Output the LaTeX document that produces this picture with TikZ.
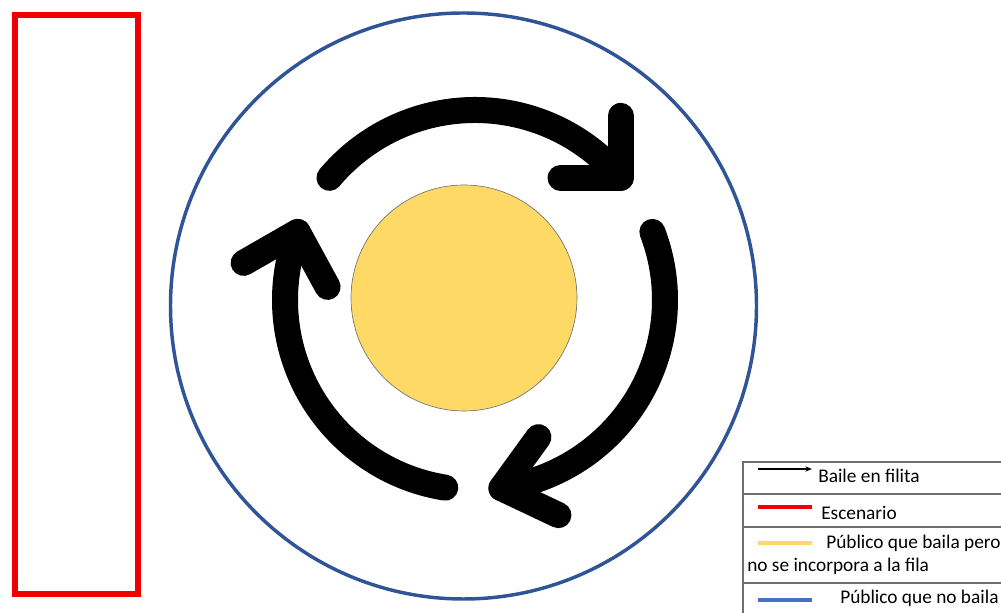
\documentclass[tikz,border=0pt]{standalone}
\usepackage{fontspec}
\setmainfont{Carlito}
\usetikzlibrary{arrows.meta,calc}
\definecolor{stage}{HTML}{F00000}
\definecolor{outerblue}{HTML}{2F5597}
\definecolor{sun}{HTML}{FFD966}
\definecolor{legblue}{HTML}{4472C4}
\definecolor{leggray}{HTML}{6E6E6E}
\begin{document}
\begin{tikzpicture}[x=0.75pt,y=0.75pt,
  ring/.style={line width=19.5pt, line cap=round, line join=round, black},
  legline/.style={draw=leggray, line width=1pt},
  legsym/.style={line width=3.6pt},
  legtext/.style={font=\fontsize{14.5pt}{17pt}\selectfont, inner sep=0pt, anchor=base west}]
\useasboundingbox (0,0) rectangle (1001,613);
\clip (0,0) rectangle (1001,613);
% stage
\draw[stage, line width=4.5pt] (15,19) rectangle (138,598);
% outer circle
\draw[outerblue, line width=2.6pt] (463.5,307) circle[radius=293];
% inner circle
\draw[draw=black!55, line width=0.5pt, fill=sun] (464,315) circle[radius=113];
% circular arrows
\coordinate (rc) at (475,313);
\draw[ring] (rc) ++(140:190) arc[start angle=140, end angle=40, radius=190];
\coordinate (tA) at ($(rc)+(40:190)$);
\draw[ring] ($(tA)+(0,62)$) -- (tA) -- ($(tA)+(-60,0)$);
\draw[ring] (rc) ++(21:190) arc[start angle=21, end angle=-82, radius=190];
\coordinate (tB) at ($(rc)+(-82:190)$);
\draw[ring] ($(tB)+(37,51)$) -- (tB) -- ($(tB)+(57,-27)$);
\draw[ring] (rc) ++(261:190) arc[start angle=261, end angle=159, radius=190];
\coordinate (tC) at ($(rc)+(159:190)$);
\draw[ring] ($(tC)+(-54,-31)$) -- (tC) -- ($(tC)+(30,-55)$);
% legend
\draw[legline] (1010,151) -- (743,151) -- (743,-10);
\draw[legline] (743,119) -- (1010,119);
\draw[legline] (743,86) -- (1010,86);
\draw[legline] (743,30) -- (1010,30);
\coordinate (a1) at (758,144);
\coordinate (a2) at (812,144);
\draw[line width=0.8pt, -{Stealth[length=5pt,width=4pt]}] (a1) -- (a2);
\node[legtext] (t1) at (818,130) {Baile en filita};
\coordinate (r1) at (758,106);
\coordinate (r2) at (812,106);
\draw[legsym, stage] (r1) -- (r2);
\node[legtext] (t2) at (821,93) {Escenario};
\coordinate (y1) at (758,70);
\coordinate (y2) at (812,70);
\draw[legsym, sun] (y1) -- (y2);
\node[legtext] (t3) at (826,64) {Público que baila pero};
\node[legtext] (t3b) at (747,41) {no se incorpora a la fila};
\coordinate (b1) at (758,13);
\coordinate (b2) at (812,13);
\draw[legsym, legblue] (b1) -- (b2);
\node[legtext] (t4) at (840,9) {Público que no baila};
\end{tikzpicture}
\end{document}
